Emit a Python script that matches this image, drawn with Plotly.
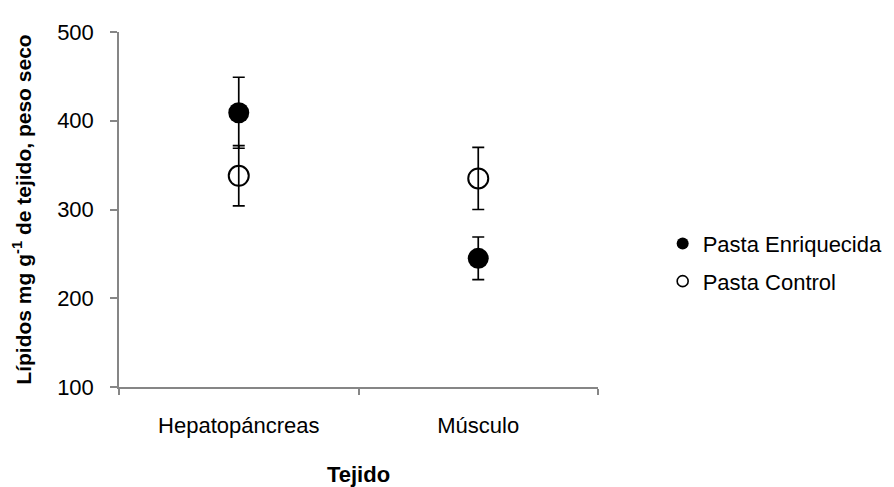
import plotly.graph_objects as go

categories = ["Hepatopáncreas", "Músculo"]
enriquecida = [409, 245]
enriquecida_err = [40, 24]
control = [338, 335]
control_err = [34, 35]
series_names = ["Pasta Enriquecida", "Pasta Control"]
y_ticks = [100, 200, 300, 400, 500]

font_family = "Liberation Sans, Arial, sans-serif"

fig = go.Figure()

fig.add_trace(go.Scatter(
    x=categories, y=control, mode="markers", name=series_names[1], showlegend=False,
    marker=dict(symbol="circle-open", size=20, color="black", line=dict(width=2, color="black")),
    error_y=dict(type="data", array=control_err, visible=True, color="black", thickness=1.7, width=6),
))
fig.add_trace(go.Scatter(
    x=categories, y=enriquecida, mode="markers", name=series_names[0], showlegend=False,
    marker=dict(symbol="circle", size=21, color="black"),
    error_y=dict(type="data", array=enriquecida_err, visible=True, color="black", thickness=1.7, width=6),
))
# legend-only entries (smaller symbols as in reference)
fig.add_trace(go.Scatter(
    x=[None], y=[None], mode="markers", name=series_names[0], legendgroup="a",
    marker=dict(symbol="circle", size=12, color="black"),
))
fig.add_trace(go.Scatter(
    x=[None], y=[None], mode="markers", name=series_names[1], legendgroup="b",
    marker=dict(symbol="circle-open", size=11, color="black", line=dict(width=1.6, color="black")),
))

axis_color = "#868686"
fig.update_layout(
    width=894, height=487,
    margin=dict(l=111, r=304, t=16, b=106),
    paper_bgcolor="white", plot_bgcolor="white",
    font=dict(family=font_family, size=22, color="black"),
    showlegend=True,
    legend=dict(x=1.135, y=0.35, xanchor="left", yanchor="middle",
                font=dict(size=22, color="black"), tracegroupgap=6,
                itemwidth=30, bgcolor="rgba(0,0,0,0)"),
    xaxis=dict(
        type="category", categoryorder="array", categoryarray=categories,
        range=[-0.5, 1.5], tickson="boundaries",
        showline=True, linecolor=axis_color, linewidth=1.5,
        ticks="outside", ticklen=6, tickcolor=axis_color, tickwidth=1.5,
        showgrid=False, zeroline=False,
        tickfont=dict(size=22, color="black"), ticklabelstandoff=18,
        title=dict(text="<b>Tejido</b>", font=dict(size=22, color="black"), standoff=29),
    ),
    yaxis=dict(
        range=[100, 500], tickvals=y_ticks,
        showline=True, linecolor=axis_color, linewidth=1.5,
        ticks="outside", ticklen=7, tickcolor=axis_color, tickwidth=1.5,
        showgrid=False, zeroline=False,
        tickfont=dict(size=22, color="black"), ticklabelstandoff=12,
        title=dict(text="<b>Lípidos mg g<sup>-1</sup> de tejido, peso seco</b>",
                   font=dict(size=21, color="black"), standoff=20),
    ),
)

fig.write_html("out.html")
